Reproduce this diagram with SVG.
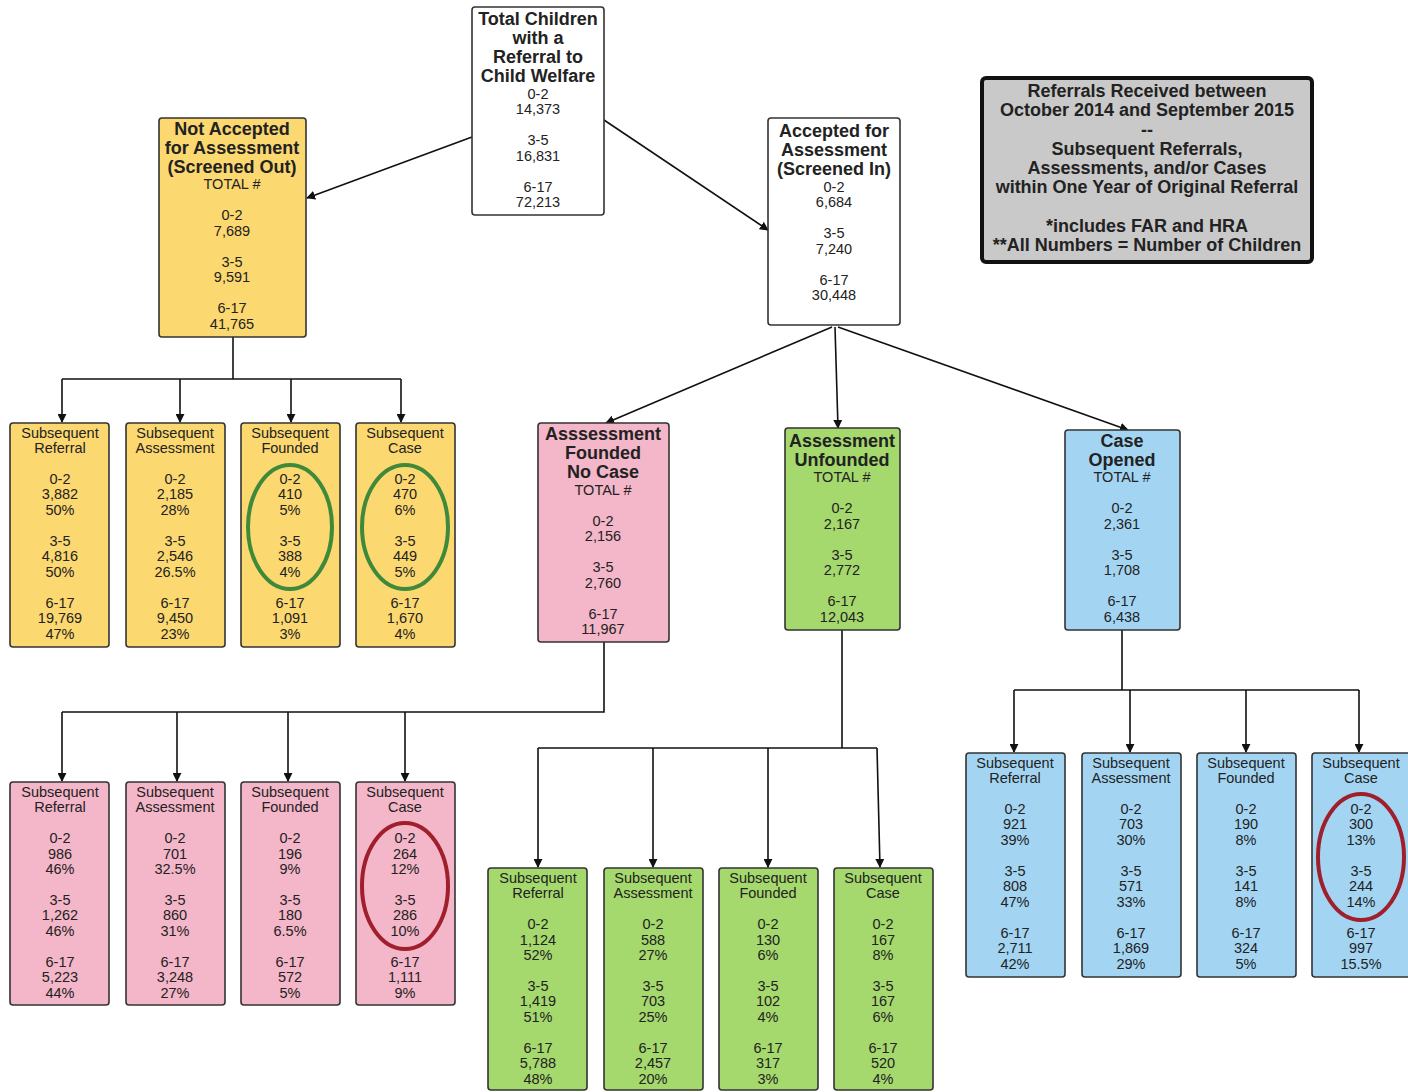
<svg xmlns="http://www.w3.org/2000/svg" width="1408" height="1092" viewBox="0 0 1408 1092">
<style>
text{font-family:"Liberation Sans",Arial,sans-serif;fill:#222;text-anchor:middle;dominant-baseline:central}
.h{font-size:18px;font-weight:bold}
.t{font-size:14.5px}
.box{stroke:#333;stroke-width:1.6}
.w{fill:#fff}.y{fill:#fcd870}.p{fill:#f4b6c9}.g{fill:#a5d86d}.b{fill:#a3d5f3}
.c{stroke:#111;stroke-width:1.6;fill:none}
.a{marker-end:url(#ah)}
.eg{fill:none;stroke:#3f8a3a;stroke-width:4}
.er{fill:none;stroke:#a01f2c;stroke-width:4}
</style>
<defs>
<marker id="ah" viewBox="0 0 10 10" refX="9" refY="5" markerWidth="9" markerHeight="9" orient="auto" markerUnits="userSpaceOnUse">
<path d="M0,0 L10,5 L0,10 z" fill="#111"/>
</marker>
</defs>
<rect width="1408" height="1092" fill="#fff"/>

<g id="connectors">
<line class="c a" x1="472" y1="137" x2="307" y2="198"/>
<line class="c a" x1="604" y1="120" x2="768" y2="230"/>
<line class="c a" x1="832" y1="327" x2="606" y2="423"/>
<line class="c a" x1="835" y1="327" x2="838" y2="428"/>
<line class="c a" x1="838" y1="327" x2="1128" y2="430"/>
<polyline class="c" points="233,337 233,379"/>
<line class="c" x1="62" y1="379" x2="401" y2="379"/>
<line class="c a" x1="62" y1="379" x2="62" y2="422"/>
<line class="c a" x1="180" y1="379" x2="180" y2="422"/>
<line class="c a" x1="291" y1="379" x2="291" y2="422"/>
<line class="c a" x1="401" y1="379" x2="401" y2="422"/>
<polyline class="c" points="604,642 604,712 62,712"/>
<line class="c a" x1="62" y1="712" x2="62" y2="781"/>
<line class="c a" x1="177" y1="712" x2="177" y2="781"/>
<line class="c a" x1="288" y1="712" x2="288" y2="781"/>
<line class="c a" x1="405" y1="712" x2="405" y2="781"/>
<polyline class="c" points="842,630 842,748"/>
<line class="c" x1="538" y1="748" x2="877" y2="748"/>
<line class="c a" x1="538" y1="748" x2="538" y2="867"/>
<line class="c a" x1="653" y1="748" x2="653" y2="867"/>
<line class="c a" x1="768" y1="748" x2="768" y2="867"/>
<line class="c a" x1="877" y1="748" x2="880" y2="867"/>
<polyline class="c" points="1122,630 1122,690"/>
<line class="c" x1="1014" y1="690" x2="1359" y2="690"/>
<line class="c a" x1="1014" y1="690" x2="1014" y2="752"/>
<line class="c a" x1="1130" y1="690" x2="1130" y2="752"/>
<line class="c a" x1="1246" y1="690" x2="1246" y2="752"/>
<line class="c a" x1="1359" y1="690" x2="1359" y2="752"/>
</g>

<g id="total">
<rect class="box w" x="472" y="7" width="132" height="208" rx="3"/>
<text class="h" x="538" y="19">Total Children</text>
<text class="h" x="538" y="38">with a</text>
<text class="h" x="538" y="57">Referral to</text>
<text class="h" x="538" y="76">Child Welfare</text>
<text class="t" x="538" y="94">0-2</text><text class="t" x="538" y="109">14,373</text>
<text class="t" x="538" y="140">3-5</text><text class="t" x="538" y="156">16,831</text>
<text class="t" x="538" y="187">6-17</text><text class="t" x="538" y="202">72,213</text>
</g>

<g id="legend">
<rect x="982" y="78" width="330" height="184" rx="4" fill="#c9c9c9" stroke="#111" stroke-width="4"/>
<text class="h" x="1147" y="91">Referrals Received between</text>
<text class="h" x="1147" y="110">October 2014 and September 2015</text>
<text class="h" x="1147" y="130">--</text>
<text class="h" x="1147" y="149">Subsequent Referrals,</text>
<text class="h" x="1147" y="168">Assessments, and/or Cases</text>
<text class="h" x="1147" y="187">within One Year of Original Referral</text>
<text class="h" x="1147" y="226">*includes FAR and HRA</text>
<text class="h" x="1147" y="245">**All Numbers = Number of Children</text>
</g>

<g id="notAccepted">
<rect class="box y" x="159" y="118" width="147" height="219" rx="3"/>
<text class="h" x="232" y="129">Not Accepted</text>
<text class="h" x="232" y="148">for Assessment</text>
<text class="h" x="232" y="167">(Screened Out)</text>
<text class="t" x="232" y="184">TOTAL #</text>
<text class="t" x="232" y="215">0-2</text><text class="t" x="232" y="231">7,689</text>
<text class="t" x="232" y="262">3-5</text><text class="t" x="232" y="277">9,591</text>
<text class="t" x="232" y="308">6-17</text><text class="t" x="232" y="324">41,765</text>
</g>

<g id="accepted">
<rect class="box w" x="768" y="118" width="132" height="207" rx="3"/>
<text class="h" x="834" y="131">Accepted for</text>
<text class="h" x="834" y="150">Assessment</text>
<text class="h" x="834" y="169">(Screened In)</text>
<text class="t" x="834" y="187">0-2</text><text class="t" x="834" y="202">6,684</text>
<text class="t" x="834" y="233">3-5</text><text class="t" x="834" y="249">7,240</text>
<text class="t" x="834" y="280">6-17</text><text class="t" x="834" y="295">30,448</text>
</g>

<g id="foundedNoCase">
<rect class="box p" x="538" y="423" width="131" height="219" rx="3"/>
<text class="h" x="603" y="434">Asssessment</text>
<text class="h" x="603" y="453">Founded</text>
<text class="h" x="603" y="472">No Case</text>
<text class="t" x="603" y="490">TOTAL #</text>
<text class="t" x="603" y="521">0-2</text><text class="t" x="603" y="536">2,156</text>
<text class="t" x="603" y="567">3-5</text><text class="t" x="603" y="583">2,760</text>
<text class="t" x="603" y="614">6-17</text><text class="t" x="603" y="629">11,967</text>
</g>

<g id="unfounded">
<rect class="box g" x="785" y="428" width="115" height="202" rx="3"/>
<text class="h" x="842" y="441">Assessment</text>
<text class="h" x="842" y="460">Unfounded</text>
<text class="t" x="842" y="477">TOTAL #</text>
<text class="t" x="842" y="508">0-2</text><text class="t" x="842" y="524">2,167</text>
<text class="t" x="842" y="555">3-5</text><text class="t" x="842" y="570">2,772</text>
<text class="t" x="842" y="601">6-17</text><text class="t" x="842" y="617">12,043</text>
</g>

<g id="caseOpened">
<rect class="box b" x="1065" y="430" width="115" height="200" rx="3"/>
<text class="h" x="1122" y="441">Case</text>
<text class="h" x="1122" y="460">Opened</text>
<text class="t" x="1122" y="477">TOTAL #</text>
<text class="t" x="1122" y="508">0-2</text><text class="t" x="1122" y="524">2,361</text>
<text class="t" x="1122" y="555">3-5</text><text class="t" x="1122" y="570">1,708</text>
<text class="t" x="1122" y="601">6-17</text><text class="t" x="1122" y="617">6,438</text>
</g>

<!-- Yellow children -->
<g id="y1">
<rect class="box y" x="10" y="423" width="99" height="224" rx="3"/>
<text class="t" x="60" y="433">Subsequent</text><text class="t" x="60" y="448">Referral</text>
<text class="t" x="60" y="479">0-2</text><text class="t" x="60" y="494">3,882</text><text class="t" x="60" y="510">50%</text>
<text class="t" x="60" y="541">3-5</text><text class="t" x="60" y="556">4,816</text><text class="t" x="60" y="572">50%</text>
<text class="t" x="60" y="603">6-17</text><text class="t" x="60" y="618">19,769</text><text class="t" x="60" y="634">47%</text>
</g>
<g id="y2">
<rect class="box y" x="126" y="423" width="99" height="224" rx="3"/>
<text class="t" x="175" y="433">Subsequent</text><text class="t" x="175" y="448">Assessment</text>
<text class="t" x="175" y="479">0-2</text><text class="t" x="175" y="494">2,185</text><text class="t" x="175" y="510">28%</text>
<text class="t" x="175" y="541">3-5</text><text class="t" x="175" y="556">2,546</text><text class="t" x="175" y="572">26.5%</text>
<text class="t" x="175" y="603">6-17</text><text class="t" x="175" y="618">9,450</text><text class="t" x="175" y="634">23%</text>
</g>
<g id="y3">
<rect class="box y" x="241" y="423" width="99" height="224" rx="3"/>
<text class="t" x="290" y="433">Subsequent</text><text class="t" x="290" y="448">Founded</text>
<text class="t" x="290" y="479">0-2</text><text class="t" x="290" y="494">410</text><text class="t" x="290" y="510">5%</text>
<text class="t" x="290" y="541">3-5</text><text class="t" x="290" y="556">388</text><text class="t" x="290" y="572">4%</text>
<text class="t" x="290" y="603">6-17</text><text class="t" x="290" y="618">1,091</text><text class="t" x="290" y="634">3%</text>
<ellipse class="eg" cx="290" cy="527" rx="42" ry="62"/>
</g>
<g id="y4">
<rect class="box y" x="356" y="423" width="99" height="224" rx="3"/>
<text class="t" x="405" y="433">Subsequent</text><text class="t" x="405" y="448">Case</text>
<text class="t" x="405" y="479">0-2</text><text class="t" x="405" y="494">470</text><text class="t" x="405" y="510">6%</text>
<text class="t" x="405" y="541">3-5</text><text class="t" x="405" y="556">449</text><text class="t" x="405" y="572">5%</text>
<text class="t" x="405" y="603">6-17</text><text class="t" x="405" y="618">1,670</text><text class="t" x="405" y="634">4%</text>
<ellipse class="eg" cx="405" cy="527" rx="43" ry="62"/>
</g>

<!-- Pink children -->
<g id="p1">
<rect class="box p" x="10" y="782" width="99" height="223" rx="3"/>
<text class="t" x="60" y="792">Subsequent</text><text class="t" x="60" y="807">Referral</text>
<text class="t" x="60" y="838">0-2</text><text class="t" x="60" y="854">986</text><text class="t" x="60" y="869">46%</text>
<text class="t" x="60" y="900">3-5</text><text class="t" x="60" y="915">1,262</text><text class="t" x="60" y="931">46%</text>
<text class="t" x="60" y="962">6-17</text><text class="t" x="60" y="977">5,223</text><text class="t" x="60" y="993">44%</text>
</g>
<g id="p2">
<rect class="box p" x="126" y="782" width="99" height="223" rx="3"/>
<text class="t" x="175" y="792">Subsequent</text><text class="t" x="175" y="807">Assessment</text>
<text class="t" x="175" y="838">0-2</text><text class="t" x="175" y="854">701</text><text class="t" x="175" y="869">32.5%</text>
<text class="t" x="175" y="900">3-5</text><text class="t" x="175" y="915">860</text><text class="t" x="175" y="931">31%</text>
<text class="t" x="175" y="962">6-17</text><text class="t" x="175" y="977">3,248</text><text class="t" x="175" y="993">27%</text>
</g>
<g id="p3">
<rect class="box p" x="241" y="782" width="99" height="223" rx="3"/>
<text class="t" x="290" y="792">Subsequent</text><text class="t" x="290" y="807">Founded</text>
<text class="t" x="290" y="838">0-2</text><text class="t" x="290" y="854">196</text><text class="t" x="290" y="869">9%</text>
<text class="t" x="290" y="900">3-5</text><text class="t" x="290" y="915">180</text><text class="t" x="290" y="931">6.5%</text>
<text class="t" x="290" y="962">6-17</text><text class="t" x="290" y="977">572</text><text class="t" x="290" y="993">5%</text>
</g>
<g id="p4">
<rect class="box p" x="356" y="782" width="99" height="223" rx="3"/>
<text class="t" x="405" y="792">Subsequent</text><text class="t" x="405" y="807">Case</text>
<text class="t" x="405" y="838">0-2</text><text class="t" x="405" y="854">264</text><text class="t" x="405" y="869">12%</text>
<text class="t" x="405" y="900">3-5</text><text class="t" x="405" y="915">286</text><text class="t" x="405" y="931">10%</text>
<text class="t" x="405" y="962">6-17</text><text class="t" x="405" y="977">1,111</text><text class="t" x="405" y="993">9%</text>
<ellipse class="er" cx="405" cy="886" rx="43" ry="63"/>
</g>

<!-- Green children -->
<g id="g1">
<rect class="box g" x="488" y="868" width="99" height="222" rx="3"/>
<text class="t" x="538" y="878">Subsequent</text><text class="t" x="538" y="893">Referral</text>
<text class="t" x="538" y="924">0-2</text><text class="t" x="538" y="940">1,124</text><text class="t" x="538" y="955">52%</text>
<text class="t" x="538" y="986">3-5</text><text class="t" x="538" y="1001">1,419</text><text class="t" x="538" y="1017">51%</text>
<text class="t" x="538" y="1048">6-17</text><text class="t" x="538" y="1063">5,788</text><text class="t" x="538" y="1079">48%</text>
</g>
<g id="g2">
<rect class="box g" x="604" y="868" width="99" height="222" rx="3"/>
<text class="t" x="653" y="878">Subsequent</text><text class="t" x="653" y="893">Assessment</text>
<text class="t" x="653" y="924">0-2</text><text class="t" x="653" y="940">588</text><text class="t" x="653" y="955">27%</text>
<text class="t" x="653" y="986">3-5</text><text class="t" x="653" y="1001">703</text><text class="t" x="653" y="1017">25%</text>
<text class="t" x="653" y="1048">6-17</text><text class="t" x="653" y="1063">2,457</text><text class="t" x="653" y="1079">20%</text>
</g>
<g id="g3">
<rect class="box g" x="719" y="868" width="99" height="222" rx="3"/>
<text class="t" x="768" y="878">Subsequent</text><text class="t" x="768" y="893">Founded</text>
<text class="t" x="768" y="924">0-2</text><text class="t" x="768" y="940">130</text><text class="t" x="768" y="955">6%</text>
<text class="t" x="768" y="986">3-5</text><text class="t" x="768" y="1001">102</text><text class="t" x="768" y="1017">4%</text>
<text class="t" x="768" y="1048">6-17</text><text class="t" x="768" y="1063">317</text><text class="t" x="768" y="1079">3%</text>
</g>
<g id="g4">
<rect class="box g" x="834" y="868" width="99" height="222" rx="3"/>
<text class="t" x="883" y="878">Subsequent</text><text class="t" x="883" y="893">Case</text>
<text class="t" x="883" y="924">0-2</text><text class="t" x="883" y="940">167</text><text class="t" x="883" y="955">8%</text>
<text class="t" x="883" y="986">3-5</text><text class="t" x="883" y="1001">167</text><text class="t" x="883" y="1017">6%</text>
<text class="t" x="883" y="1048">6-17</text><text class="t" x="883" y="1063">520</text><text class="t" x="883" y="1079">4%</text>
</g>

<!-- Blue children -->
<g id="b1">
<rect class="box b" x="966" y="753" width="99" height="224" rx="3"/>
<text class="t" x="1015" y="763">Subsequent</text><text class="t" x="1015" y="778">Referral</text>
<text class="t" x="1015" y="809">0-2</text><text class="t" x="1015" y="824">921</text><text class="t" x="1015" y="840">39%</text>
<text class="t" x="1015" y="871">3-5</text><text class="t" x="1015" y="886">808</text><text class="t" x="1015" y="902">47%</text>
<text class="t" x="1015" y="933">6-17</text><text class="t" x="1015" y="948">2,711</text><text class="t" x="1015" y="964">42%</text>
</g>
<g id="b2">
<rect class="box b" x="1082" y="753" width="99" height="224" rx="3"/>
<text class="t" x="1131" y="763">Subsequent</text><text class="t" x="1131" y="778">Assessment</text>
<text class="t" x="1131" y="809">0-2</text><text class="t" x="1131" y="824">703</text><text class="t" x="1131" y="840">30%</text>
<text class="t" x="1131" y="871">3-5</text><text class="t" x="1131" y="886">571</text><text class="t" x="1131" y="902">33%</text>
<text class="t" x="1131" y="933">6-17</text><text class="t" x="1131" y="948">1,869</text><text class="t" x="1131" y="964">29%</text>
</g>
<g id="b3">
<rect class="box b" x="1197" y="753" width="99" height="224" rx="3"/>
<text class="t" x="1246" y="763">Subsequent</text><text class="t" x="1246" y="778">Founded</text>
<text class="t" x="1246" y="809">0-2</text><text class="t" x="1246" y="824">190</text><text class="t" x="1246" y="840">8%</text>
<text class="t" x="1246" y="871">3-5</text><text class="t" x="1246" y="886">141</text><text class="t" x="1246" y="902">8%</text>
<text class="t" x="1246" y="933">6-17</text><text class="t" x="1246" y="948">324</text><text class="t" x="1246" y="964">5%</text>
</g>
<g id="b4">
<rect class="box b" x="1312" y="753" width="99" height="224" rx="3"/>
<text class="t" x="1361" y="763">Subsequent</text><text class="t" x="1361" y="778">Case</text>
<text class="t" x="1361" y="809">0-2</text><text class="t" x="1361" y="824">300</text><text class="t" x="1361" y="840">13%</text>
<text class="t" x="1361" y="871">3-5</text><text class="t" x="1361" y="886">244</text><text class="t" x="1361" y="902">14%</text>
<text class="t" x="1361" y="933">6-17</text><text class="t" x="1361" y="948">997</text><text class="t" x="1361" y="964">15.5%</text>
<ellipse class="er" cx="1361" cy="857" rx="43" ry="63"/>
</g>
</svg>
